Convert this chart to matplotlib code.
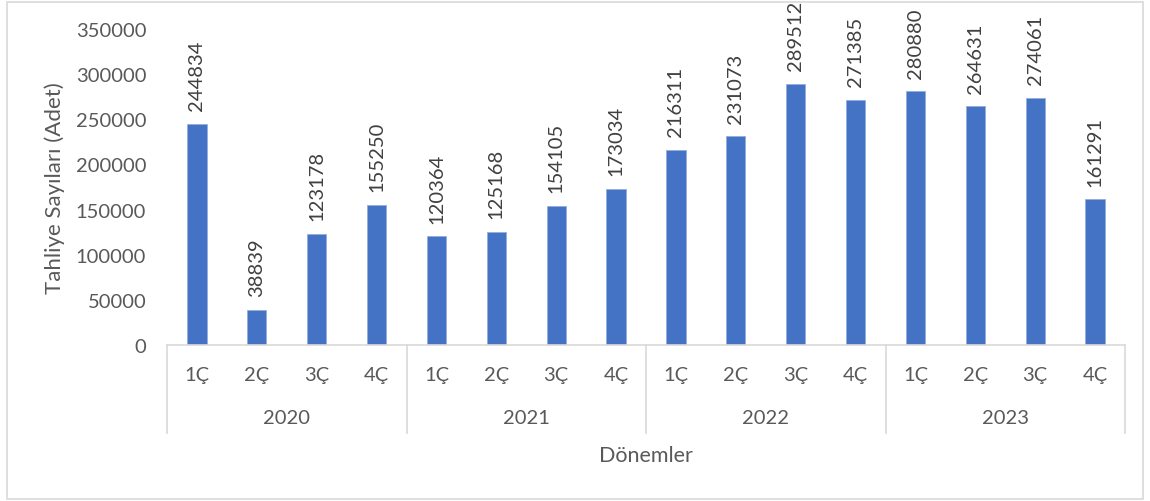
"""Tahliye sayıları - çeyreklik bar chart (Excel style, two-level category axis)"""
import matplotlib
matplotlib.use('Agg')
import matplotlib.pyplot as plt
import matplotlib.transforms as mtrans
from matplotlib.patches import Rectangle
import numpy as np

plt.rcParams.update({'font.family': ['Lato', 'DejaVu Sans']})

YEARS = ['2020', '2021', '2022', '2023']
QUARTERS = ['1Ç', '2Ç', '3Ç', '4Ç']
values = [244834, 38839, 123178, 155250,
          120364, 125168, 154105, 173034,
          216311, 231073, 289512, 271385,
          280880, 264631, 274061, 161291]
yticks = [0, 50000, 100000, 150000, 200000, 250000, 300000, 350000]

TXT = '#595959'
LINE = '#d9d9d9'
BAR = '#4472C4'

fig = plt.figure(figsize=(11.5, 5.02), dpi=100)
fig.patches.append(Rectangle((7 / 1150, 2 / 502), 1136 / 1150, 497 / 502,
                             transform=fig.transFigure, fill=False,
                             edgecolor=LINE, linewidth=1.2))
ax = fig.add_axes([167 / 1150, 156 / 502, 958 / 1150, 316 / 502])

n = len(values)
x = np.arange(n)
ax.bar(x, values, 0.32, color=BAR, edgecolor='#8faadc', linewidth=0.5)
for xi, v in zip(x, values):
    ax.text(xi, v + 15000, f'{v}', rotation=90, ha='center', va='bottom',
            fontsize=14.5, color='#404040')

ax.set_xlim(-0.5, n - 0.5)
ax.set_ylim(0, 350000)
ax.set_yticks(yticks)
ax.set_yticklabels([str(t) for t in yticks], fontsize=14.5, color=TXT)
ax.tick_params(axis='y', length=0, pad=15)
ax.set_xticks([])
for s in ['top', 'right', 'left']:
    ax.spines[s].set_visible(False)
ax.spines['bottom'].set_color(LINE)
ax.spines['bottom'].set_linewidth(1.2)
ax.set_ylabel('Tahliye Sayıları (Adet)', fontsize=16, color=TXT, labelpad=8)

# two-level category axis
tr = mtrans.blended_transform_factory(ax.transData, fig.transFigure)
for xi in x:
    ax.text(xi, (502 - 376) / 502, QUARTERS[xi % 4], transform=tr,
            ha='center', va='center', fontsize=14.5, color=TXT)
for i, yr in enumerate(YEARS):
    ax.text(i * 4 + 1.5, (502 - 419) / 502, yr, transform=tr,
            ha='center', va='center', fontsize=14.5, color=TXT)
for i in range(len(YEARS) + 1):
    xs = i * 4 - 0.5
    ax.plot([xs, xs], [156 / 502, (502 - 434) / 502], transform=tr,
            color=LINE, linewidth=1.2, clip_on=False)

fig.text((167 + 1125) / 2 / 1150, (502 - 456) / 502, 'Dönemler',
         ha='center', va='center', fontsize=15.5, color=TXT)

fig.savefig('out.png', dpi=100, facecolor='white')
